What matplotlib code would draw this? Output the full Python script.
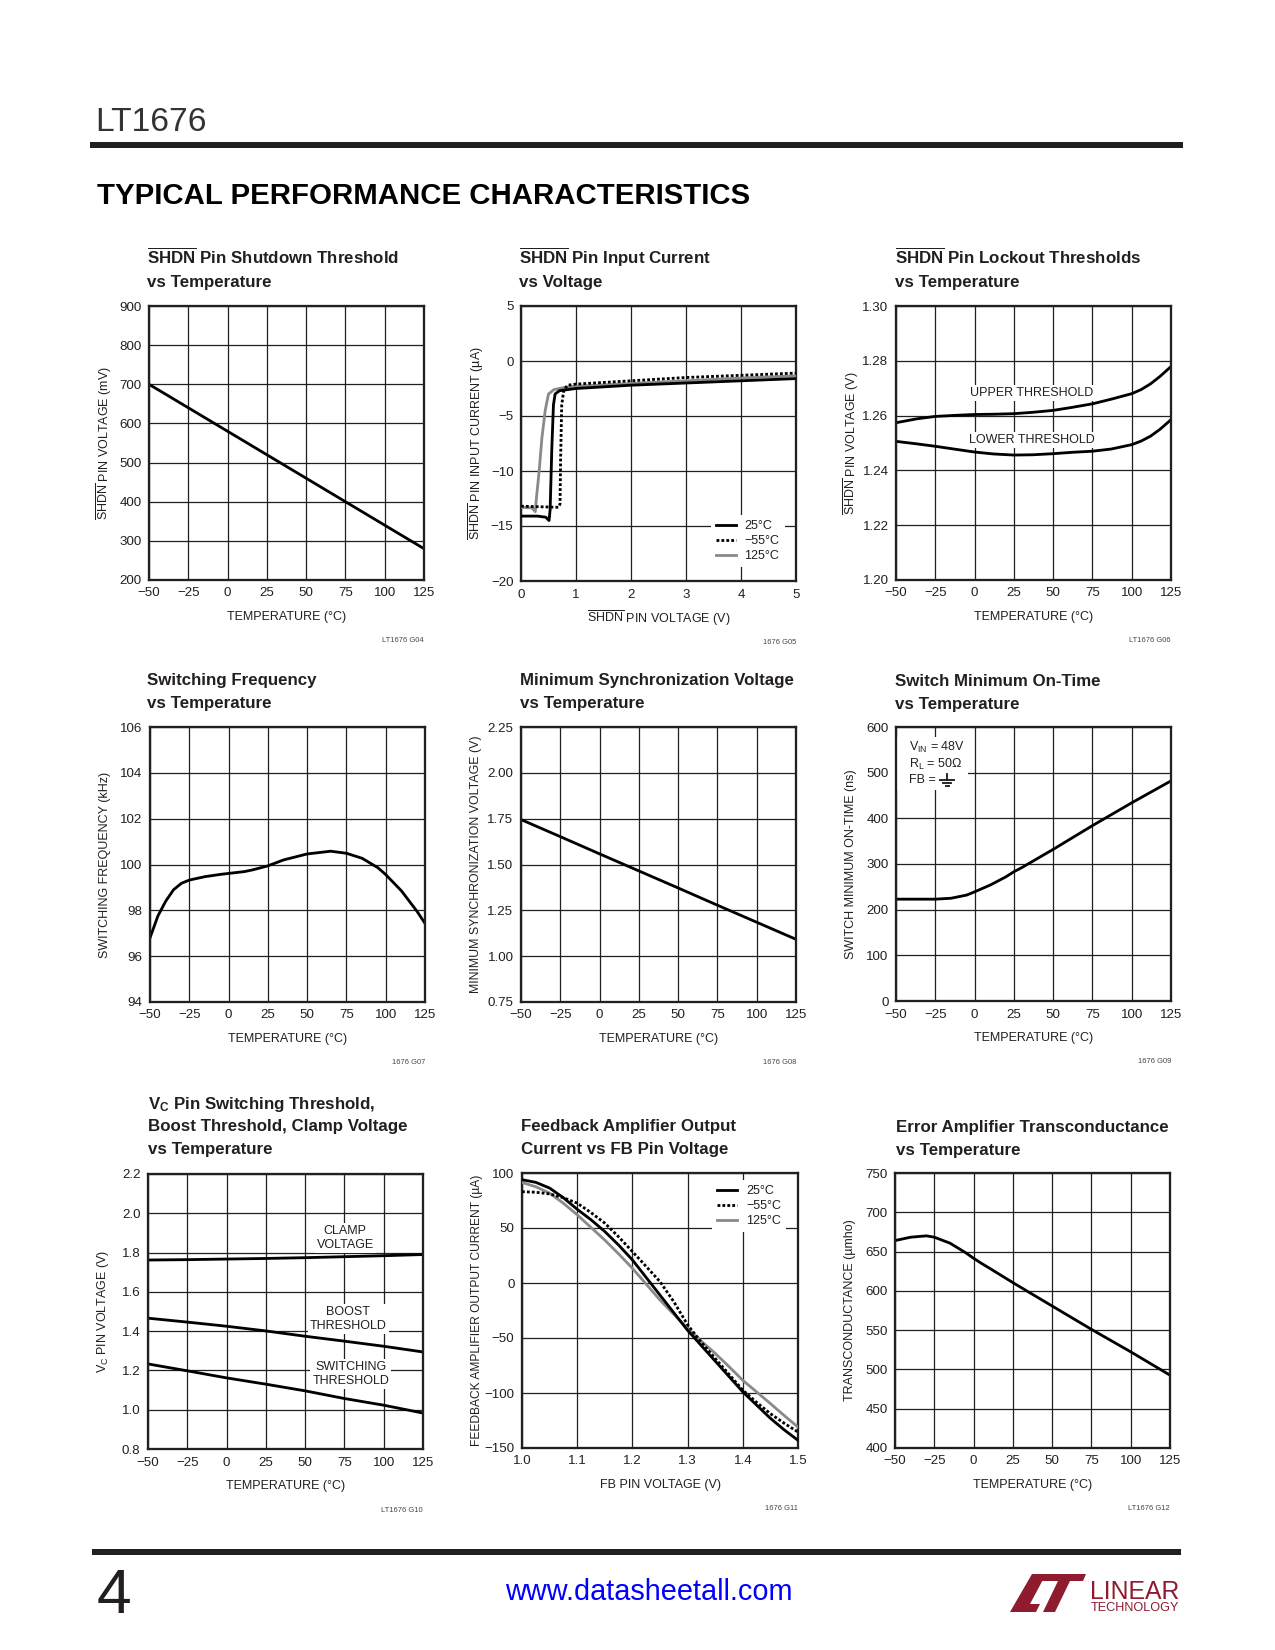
import matplotlib
matplotlib.use('Agg')
import matplotlib.pyplot as plt
from matplotlib.patches import Rectangle, Polygon
from matplotlib.lines import Line2D

# ---------------- data ----------------
TEMP = [-50, -25, 0, 25, 50, 75, 100, 125]
TEMP_LABELS = ['\u221250', '\u221225', '0', '25', '50', '75', '100', '125']

# G04 SHDN pin shutdown threshold (mV)
shdn_thresh_mv = [700, 640, 580, 520, 460, 400, 340, 280]

# G05 SHDN pin input current vs voltage (uA)
g05_v_25 = [0, 0.30, 0.45, 0.51, 0.53, 0.56, 0.59, 0.62, 0.70, 1.0, 2.0, 3.0, 4.0, 5.0]
g05_i_25 = [-14.1, -14.1, -14.2, -14.5, -13.5, -8.0, -4.0, -3.0, -2.7, -2.5, -2.2, -2.0, -1.8, -1.6]
g05_v_m55 = [0, 0.68, 0.71, 0.72, 0.74, 0.78, 0.85, 1.0, 2.0, 3.0, 4.0, 5.0]
g05_i_m55 = [-13.2, -13.3, -13.0, -9.0, -4.0, -2.6, -2.2, -2.1, -1.8, -1.5, -1.3, -1.1]
g05_v_125 = [0, 0.20, 0.26, 0.28, 0.33, 0.38, 0.44, 0.50, 0.60, 0.80, 1.0, 2.0, 3.0, 4.0, 5.0]
g05_i_125 = [-13.3, -13.35, -13.7, -12.5, -10.0, -7.0, -4.5, -3.0, -2.6, -2.4, -2.3, -2.05, -1.8, -1.55, -1.35]

# G06 lockout thresholds (V)
lock_temp = [-50, -37, -25, -12, 0, 12, 25, 37, 50, 62, 75, 87, 100, 106, 112, 118, 125]
lock_upper = [1.2574, 1.2588, 1.2597, 1.2601, 1.2604, 1.2605, 1.2607, 1.2612, 1.2619,
              1.2630, 1.2643, 1.2660, 1.2680, 1.2695, 1.2716, 1.2743, 1.2779]
lock_lower = [1.2506, 1.2497, 1.2488, 1.2477, 1.2467, 1.2460, 1.2456, 1.2457, 1.2461,
              1.2466, 1.2470, 1.2478, 1.2494, 1.2507, 1.2525, 1.2550, 1.2585]

# G07 switching frequency (kHz)
freq_temp = [-50, -45, -40, -35, -30, -25, -15, -5, 0, 10, 15, 25, 35, 50, 65, 75, 85, 95,
             100, 110, 120, 125]
freq_khz = [96.8, 97.75, 98.4, 98.9, 99.18, 99.32, 99.47, 99.57, 99.61, 99.69, 99.76, 99.94,
            100.2, 100.46, 100.58, 100.49, 100.27, 99.86, 99.56, 98.85, 97.95, 97.43]

# G08 minimum synchronization voltage (V)
sync_v = [1.745, 1.652, 1.558, 1.465, 1.372, 1.278, 1.185, 1.092]

# G09 switch minimum on-time (ns)
ont_temp = [-50, -25, -15, -5, 0, 10, 20, 25, 30, 40, 50, 75, 100, 125]
ont_ns = [223, 223, 225, 232, 239, 254, 272, 283, 292, 312, 332, 384, 434, 482]

# G10 Vc pin thresholds (V)
vc_clamp = [1.762, 1.764, 1.767, 1.770, 1.774, 1.779, 1.784, 1.790]
vc_boost = [1.466, 1.446, 1.425, 1.401, 1.374, 1.349, 1.323, 1.294]
vc_switch = [1.233, 1.198, 1.162, 1.130, 1.096, 1.057, 1.023, 0.983]

# G11 feedback amplifier output current (uA)
fb_v = [1.0, 1.025, 1.05, 1.075, 1.1, 1.125, 1.15, 1.175, 1.2, 1.225, 1.25, 1.275, 1.3,
        1.325, 1.35, 1.375, 1.4, 1.425, 1.45, 1.475, 1.5]
fb_i_25 = [93.9, 91.5, 86.3, 77.5, 67.0, 57.5, 46.8, 34.5, 21.0, 5.0, -11.0, -27.0, -43.0,
           -57.0, -71.0, -85.0, -99.0, -111.0, -123.0, -133.5, -143.0]
fb_i_m55 = [83.0, 82.5, 81.0, 77.5, 72.6, 64.0, 54.4, 42.0, 28.6, 15.0, 1.2, -17.0, -38.0,
            -54.0, -68.6, -83.0, -97.4, -108.5, -118.8, -127.5, -135.5]
fb_i_125 = [91.4, 87.5, 81.7, 72.5, 62.0, 50.5, 39.0, 26.5, 13.4, -1.0, -15.5, -28.5, -41.3,
            -53.0, -64.0, -76.0, -88.5, -99.0, -109.6, -120.5, -131.0]

# G12 error amplifier transconductance (umho)
gm_temp = [-50, -40, -30, -25, -15, -5, 0, 5, 10, 25, 50, 75, 100, 125]
gm_umho = [664, 668.3, 670, 668.3, 660.7, 648.5, 641.5, 635, 629, 610.5, 580.7, 551, 522.4, 492.7]

SERIES_LABELS = ['25\u00b0C', '\u221255\u00b0C', '125\u00b0C']

# ---------------- style ----------------
FONT = 'Liberation Sans'
plt.rcParams.update({
    'font.family': [FONT, 'DejaVu Sans'],
    'mathtext.fontset': 'custom',
    'mathtext.rm': FONT,
    'mathtext.bf': FONT + ':bold',
    'mathtext.it': FONT + ':italic',
    'mathtext.default': 'regular',
    'axes.unicode_minus': True,
})

INK = '#231f20'
GRAY = '#8a8a8a'
LW = 1.35
DOT = (0, (1, 0.75))

W, H = 1275, 1650
fig = plt.figure(figsize=(W / 150, H / 150), dpi=150)
RENDERER = fig.canvas.get_renderer()


def fit(s, target_px, weight='normal', base=10.0):
    t = fig.text(0, 0, s, fontsize=base, fontweight=weight)
    w = t.get_window_extent(RENDERER).width
    t.remove()
    return base * target_px / w


TITLE_FS = fit('Switching Frequency', 170, 'bold')
LAB_FS = fit('TEMPERATURE (\u00b0C)', 120)
TICK_FS = fit('900', 22.5)
CODE_FS = LAB_FS * 0.6


def fx(x):
    return x / W


def fy(y):
    return 1 - y / H


def make_axes(box):
    x0, y0, x1, y1 = box
    return fig.add_axes([fx(x0), fy(y1), (x1 - x0) / W, (y1 - y0) / H])


def style(ax, xticks, xlabels, yticks, ylabels, xlabel, ylabel, code, ylab_fs=None):
    ax.set_xlim(xticks[0], xticks[-1])
    ax.set_ylim(yticks[0], yticks[-1])
    ax.set_xticks(xticks)
    ax.set_xticklabels(xlabels)
    ax.set_yticks(yticks)
    ax.set_yticklabels(ylabels)
    ax.set_axisbelow(True)
    ax.grid(True, color=INK, lw=0.6)
    for s in ax.spines.values():
        s.set_linewidth(1.1)
        s.set_color(INK)
    ax.tick_params(length=0, labelsize=TICK_FS, pad=3.6, colors=INK)
    ax.set_xlabel(xlabel, fontsize=LAB_FS, color=INK, va='center')
    ax.xaxis.set_label_coords(0.5, -37 / 275)
    ax.set_ylabel(ylabel, fontsize=ylab_fs or LAB_FS, color=INK, va='center')
    ax.yaxis.set_label_coords(-45 / 275, 0.5)
    ax.text(1.0, -61 / 275, code, transform=ax.transAxes, ha='right', va='center',
            fontsize=CODE_FS, color='#444444')


def title(x, last_baseline, lines):
    n = len(lines)
    for i, line in enumerate(lines):
        y = last_baseline - (n - 1 - i) * 22.7
        fig.text(fx(x), fy(y), line, fontsize=TITLE_FS, fontweight='bold', color=INK,
                 ha='left', va='baseline')


def legend(ax, handles, anchor, loc):
    leg = ax.legend(handles, SERIES_LABELS, loc=loc, bbox_to_anchor=anchor, frameon=True,
                    fontsize=LAB_FS, handlelength=1.6, handletextpad=0.7, labelspacing=0.25,
                    borderpad=0.4, borderaxespad=0, fancybox=False, framealpha=1)
    leg.get_frame().set_edgecolor('none')
    leg.get_frame().set_facecolor('white')
    for t in leg.get_texts():
        t.set_color(INK)


WHITE_BOX = dict(facecolor='white', edgecolor='none', pad=1.0)
TEMP_X = 'TEMPERATURE (\u00b0C)'

# ---------------- header / footer ----------------
fig.text(fx(95), fy(131), 'LT1676', fontsize=fit('LT1676', 112), color='#333333',
         ha='left', va='baseline')
fig.add_artist(Rectangle((fx(90), fy(148)), (1183 - 90) / W, 6.5 / H, transform=fig.transFigure,
                         color=INK, lw=0))
HEAD = 'TYPICAL PERFORMANCE CHARACTERISTICS'
fig.text(fx(97), fy(204), HEAD, fontsize=fit(HEAD, 655, 'bold'), fontweight='bold',
         color='black', ha='left', va='baseline')

fig.add_artist(Rectangle((fx(92), fy(1555)), (1181 - 92) / W, 6 / H, transform=fig.transFigure,
                         color=INK, lw=0))
fig.text(fx(97), fy(1613), '4', fontsize=30, color=INK, ha='left', va='baseline')
fig.text(fx(649), fy(1592), 'www.datasheetall.com', fontsize=fit('www.datasheetall.com', 289),
         color='#0000ff', ha='center', va='center')
LOGO = '#8e1b2e'
fig.add_artist(Polygon([(fx(1032), fy(1574)), (fx(1046), fy(1574)), (fx(1030), fy(1604)),
                        (fx(1040), fy(1604)), (fx(1036), fy(1612)), (fx(1010), fy(1612))],
                       closed=True, transform=fig.transFigure, color=LOGO, lw=0))
fig.add_artist(Polygon([(fx(1044), fy(1574)), (fx(1086), fy(1574)), (fx(1083), fy(1581)),
                        (fx(1070), fy(1581)), (fx(1055), fy(1612)), (fx(1043), fy(1612)),
                        (fx(1058), fy(1581)), (fx(1041), fy(1581))],
                       closed=True, transform=fig.transFigure, color=LOGO, lw=0))
fig.text(fx(1090), fy(1599), 'LINEAR', fontsize=fit('LINEAR', 90), color=LOGO,
         ha='left', va='baseline')
fig.text(fx(1091), fy(1611), 'TECHNOLOGY', fontsize=fit('TECHNOLOGY', 89), color=LOGO,
         ha='left', va='baseline')

# ---------------- G04 ----------------
ax = make_axes((149, 306, 424, 580))
ax.plot(TEMP, shdn_thresh_mv, color='black', lw=LW)
style(ax, TEMP, TEMP_LABELS, [200, 300, 400, 500, 600, 700, 800, 900],
      ['200', '300', '400', '500', '600', '700', '800', '900'], TEMP_X,
      r'$\overline{\mathrm{SHDN}}$ PIN VOLTAGE (mV)', 'LT1676 G04')
title(146.7, 287, [r'$\overline{\mathbf{SHDN}}$ Pin Shutdown Threshold', 'vs Temperature'])

# ---------------- G05 ----------------
ax = make_axes((521, 306, 796, 581))
h1, = ax.plot(g05_v_25, g05_i_25, color='black', lw=LW, zorder=4)
h3, = ax.plot(g05_v_125, g05_i_125, color=GRAY, lw=LW, zorder=3)
h2, = ax.plot(g05_v_m55, g05_i_m55, color='black', lw=LW, ls=DOT, zorder=5)
style(ax, [0, 1, 2, 3, 4, 5], ['0', '1', '2', '3', '4', '5'], [-20, -15, -10, -5, 0, 5],
      ['\u221220', '\u221215', '\u221210', '\u22125', '0', '5'],
      r'$\overline{\mathrm{SHDN}}$ PIN VOLTAGE (V)',
      r'$\overline{\mathrm{SHDN}}$ PIN INPUT CURRENT (' + '\u00b5A)',
      '1676 G05')
legend(ax, [h1, h2, h3], (0.69, 0.05), 'lower left')
title(519, 287, [r'$\overline{\mathbf{SHDN}}$ Pin Input Current', 'vs Voltage'])

# ---------------- G06 ----------------
ax = make_axes((896, 306, 1171, 580))
ax.plot(lock_temp, lock_upper, color='black', lw=LW)
ax.plot(lock_temp, lock_lower, color='black', lw=LW)
style(ax, TEMP, TEMP_LABELS, [1.20, 1.22, 1.24, 1.26, 1.28, 1.30],
      ['1.20', '1.22', '1.24', '1.26', '1.28', '1.30'], TEMP_X,
      r'$\overline{\mathrm{SHDN}}$ PIN VOLTAGE (V)', 'LT1676 G06')
ax.text(36.5, 1.2683, 'UPPER THRESHOLD', fontsize=LAB_FS, color=INK, ha='center', va='center',
        bbox=WHITE_BOX)
ax.text(36.5, 1.2512, 'LOWER THRESHOLD', fontsize=LAB_FS, color=INK, ha='center', va='center',
        bbox=WHITE_BOX)
title(895, 287, [r'$\overline{\mathbf{SHDN}}$ Pin Lockout Thresholds', 'vs Temperature'])

# ---------------- G07 ----------------
ax = make_axes((150, 727, 425, 1002))
ax.plot(freq_temp, freq_khz, color='black', lw=LW)
style(ax, TEMP, TEMP_LABELS, [94, 96, 98, 100, 102, 104, 106],
      ['94', '96', '98', '100', '102', '104', '106'], TEMP_X,
      'SWITCHING FREQUENCY (kHz)', '1676 G07')
title(146.7, 708, ['Switching Frequency', 'vs Temperature'])

# ---------------- G08 ----------------
ax = make_axes((521, 727, 796, 1002))
ax.plot(TEMP, sync_v, color='black', lw=LW)
YL8 = 'MINIMUM SYNCHRONIZATION VOLTAGE (V)'
style(ax, TEMP, TEMP_LABELS, [0.75, 1.00, 1.25, 1.50, 1.75, 2.00, 2.25],
      ['0.75', '1.00', '1.25', '1.50', '1.75', '2.00', '2.25'], TEMP_X,
      YL8, '1676 G08', ylab_fs=min(LAB_FS, fit(YL8, 260)))
title(520, 708, ['Minimum Synchronization Voltage', 'vs Temperature'])

# ---------------- G09 ----------------
ax = make_axes((896, 727, 1171, 1001))
ax.plot(ont_temp, ont_ns, color='black', lw=LW)
style(ax, TEMP, TEMP_LABELS, [0, 100, 200, 300, 400, 500, 600],
      ['0', '100', '200', '300', '400', '500', '600'], TEMP_X,
      'SWITCH MINIMUM ON-TIME (ns)', '1676 G09')
ax.add_patch(Rectangle((-50, 461), 46, 117, facecolor='white', edgecolor='none', zorder=1))
ax.text(-41.5, 555, r'V$_{\mathrm{IN}}$ = 48V', fontsize=LAB_FS, color=INK, ha='left', va='center')
ax.text(-41.5, 519, r'R$_{\mathrm{L}}$ = 50' + '\u03a9', fontsize=LAB_FS,
        color=INK, ha='left', va='center')
ax.text(-41.5, 483, 'FB =', fontsize=LAB_FS, color=INK, ha='left', va='center')
# ground symbol
ax.add_line(Line2D([-17.5, -17.5], [496, 485], color=INK, lw=0.9))
ax.add_line(Line2D([-22, -13], [485, 485], color=INK, lw=0.9))
ax.add_line(Line2D([-20, -15], [478, 478], color=INK, lw=0.9))
ax.add_line(Line2D([-18.5, -16.5], [471, 471], color=INK, lw=0.9))
title(895, 709, ['Switch Minimum On-Time', 'vs Temperature'])

# ---------------- G10 ----------------
ax = make_axes((148, 1174, 423, 1449))
ax.plot(TEMP, vc_clamp, color='black', lw=LW)
ax.plot(TEMP, vc_boost, color='black', lw=LW)
ax.plot(TEMP, vc_switch, color='black', lw=LW)
style(ax, TEMP, TEMP_LABELS, [0.8, 1.0, 1.2, 1.4, 1.6, 1.8, 2.0, 2.2],
      ['0.8', '1.0', '1.2', '1.4', '1.6', '1.8', '2.0', '2.2'], TEMP_X,
      r'V$_{\mathrm{C}}$ PIN VOLTAGE (V)', 'LT1676 G10')
ax.text(75.5, 1.875, 'CLAMP\nVOLTAGE', fontsize=LAB_FS, color=INK, ha='center', va='center',
        linespacing=1.15, bbox=WHITE_BOX)
ax.text(77.5, 1.461, 'BOOST\nTHRESHOLD', fontsize=LAB_FS, color=INK, ha='center', va='center',
        linespacing=1.15, bbox=WHITE_BOX)
ax.text(79, 1.181, 'SWITCHING\nTHRESHOLD', fontsize=LAB_FS, color=INK, ha='center', va='center',
        linespacing=1.15, bbox=WHITE_BOX)
title(148, 1154, [r'V$_{\mathbf{C}}$ Pin Switching Threshold,',
                  'Boost Threshold, Clamp Voltage', 'vs Temperature'])

# ---------------- G11 ----------------
ax = make_axes((522, 1173, 798, 1448))
g1, = ax.plot(fb_v, fb_i_25, color='black', lw=LW, zorder=4)
g3, = ax.plot(fb_v, fb_i_125, color=GRAY, lw=LW, zorder=3)
g2, = ax.plot(fb_v, fb_i_m55, color='black', lw=LW, ls=DOT, zorder=5)
YL11 = 'FEEDBACK AMPLIFIER OUTPUT CURRENT (\u00b5A)'
style(ax, [1.0, 1.1, 1.2, 1.3, 1.4, 1.5], ['1.0', '1.1', '1.2', '1.3', '1.4', '1.5'],
      [-150, -100, -50, 0, 50, 100], ['\u2212150', '\u2212100', '\u221250', '0', '50', '100'],
      'FB PIN VOLTAGE (V)', YL11, '1676 G11', ylab_fs=min(LAB_FS, fit(YL11, 272)))
legend(ax, [g1, g2, g3], (0.69, 0.975), 'upper left')
title(520.7, 1154, ['Feedback Amplifier Output', 'Current vs FB Pin Voltage'])

# ---------------- G12 ----------------
ax = make_axes((895, 1173, 1170, 1448))
ax.plot(gm_temp, gm_umho, color='black', lw=LW)
style(ax, TEMP, TEMP_LABELS, [400, 450, 500, 550, 600, 650, 700, 750],
      ['400', '450', '500', '550', '600', '650', '700', '750'], TEMP_X,
      'TRANSCONDUCTANCE (\u00b5mho)', 'LT1676 G12')
title(896, 1155, ['Error Amplifier Transconductance', 'vs Temperature'])

fig.savefig('out.png', dpi=150, facecolor='white')
